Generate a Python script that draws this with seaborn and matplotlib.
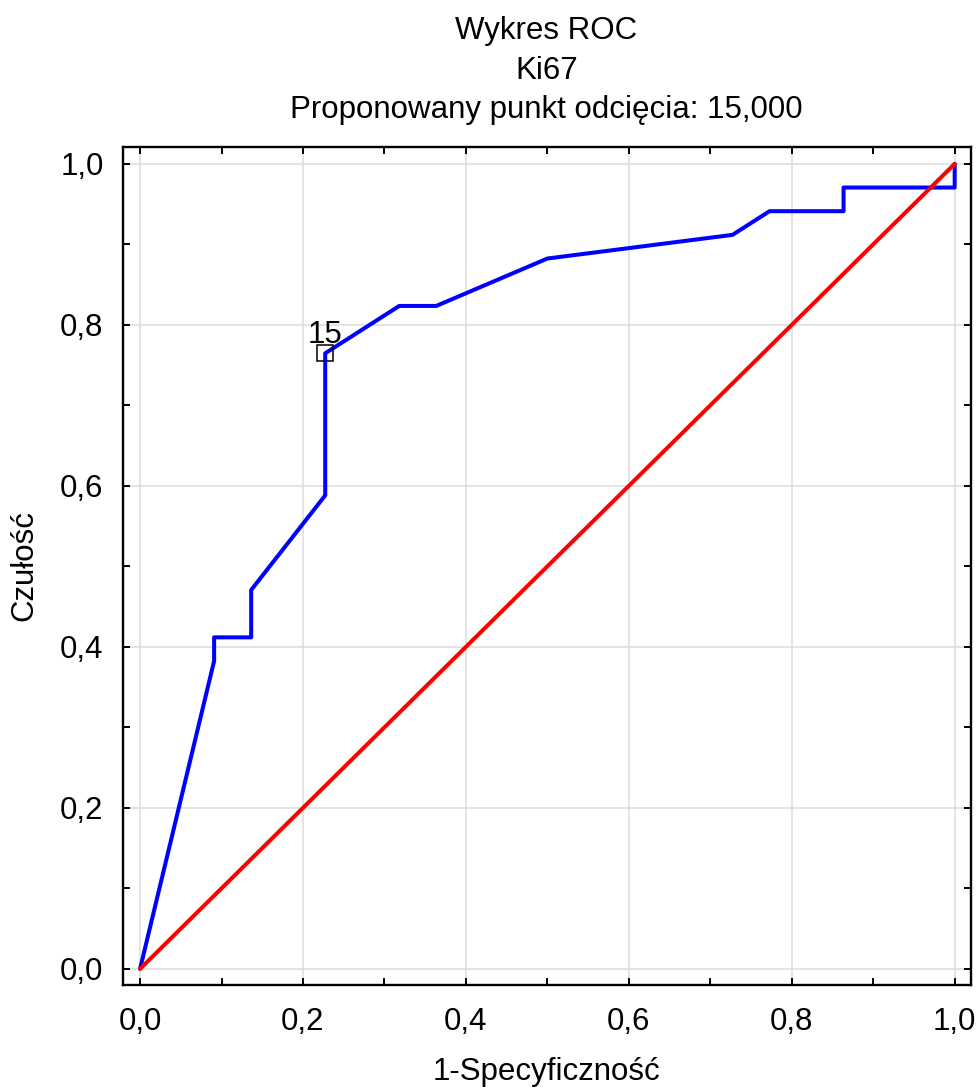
import seaborn as sns
import pandas as pd
import matplotlib.pyplot as plt
from matplotlib.ticker import MultipleLocator, FuncFormatter

# ROC points (1-specificity, sensitivity)
fpr = [0.0, 0.0909, 0.0909, 0.1364, 0.1364, 0.2273, 0.2273, 0.3182, 0.3636,
       0.5, 0.7273, 0.7727, 0.8636, 0.8636, 1.0, 1.0]
tpr = [0.0, 0.3824, 0.4118, 0.4118, 0.4706, 0.5882, 0.7647, 0.8235, 0.8235,
       0.8824, 0.9118, 0.9412, 0.9412, 0.9706, 0.9706, 1.0]
diag = [0.0, 1.0]
cut_x = [0.2273]
cut_y = [0.7647]
cut_label = '15'

df = pd.DataFrame({'fpr': fpr, 'tpr': tpr})
ref = pd.DataFrame({'x': diag, 'y': diag})

sns.set_style('white')
plt.rcParams['font.family'] = ['Liberation Sans', 'DejaVu Sans']
plt.rcParams['text.color'] = 'black'
plt.rcParams['axes.labelcolor'] = 'black'
plt.rcParams['xtick.color'] = 'black'
plt.rcParams['ytick.color'] = 'black'

fs = 22.5

fig = plt.figure(figsize=(9.79, 10.91), dpi=100)
ax = fig.add_axes([0.1256, 0.0972, 0.8662, 0.7681])

sns.lineplot(data=df, x='fpr', y='tpr', sort=False, estimator=None,
             color='#0000ff', linewidth=2.9, ax=ax, zorder=3)
sns.lineplot(data=ref, x='x', y='y', sort=False, estimator=None,
             color='#ff0000', linewidth=2.9, ax=ax, zorder=4)
ax.plot(cut_x, cut_y, marker='s', markersize=11, markerfacecolor='none',
        markeredgecolor='black', markeredgewidth=1.1, linestyle='none', zorder=5)
ax.text(cut_x[0], cut_y[0] + 0.004, cut_label, fontsize=fs, ha='center',
        va='bottom', color='black', zorder=6)

ax.set_xlim(-0.021, 1.02)
ax.set_ylim(-0.02, 1.021)
ax.xaxis.set_major_locator(MultipleLocator(0.2))
ax.xaxis.set_minor_locator(MultipleLocator(0.1))
ax.yaxis.set_major_locator(MultipleLocator(0.2))
ax.yaxis.set_minor_locator(MultipleLocator(0.1))
fmt = FuncFormatter(lambda v, _: '{:.1f}'.format(v).replace('.', ','))
ax.xaxis.set_major_formatter(fmt)
ax.yaxis.set_major_formatter(fmt)

ax.grid(True, which='major', color='#dcdcdc', linewidth=1.1)
ax.tick_params(which='both', direction='in', top=True, right=True,
               bottom=True, left=True, width=1.4, color='black')
ax.tick_params(which='major', length=5, labelsize=fs)
ax.tick_params(which='minor', length=5)
ax.tick_params(axis='x', which='major', pad=16)
ax.tick_params(axis='y', which='major', pad=14)
for s in ax.spines.values():
    s.set_color('black')
    s.set_linewidth(1.7)

ax.set_xlabel('1-Specyficzność', fontsize=fs, va='center')
ax.set_ylabel('Czułość', fontsize=fs, va='center')
ax.xaxis.set_label_coords(0.5, -0.104)
ax.yaxis.set_label_coords(-0.116, 0.5)

fig.text(0.558, 0.972, 'Wykres ROC', fontsize=fs, ha='center', va='center')
fig.text(0.558, 0.935, 'Ki67', fontsize=fs, ha='center', va='center')
fig.text(0.558, 0.899, 'Proponowany punkt odcięcia: 15,000', fontsize=fs,
         ha='center', va='center')

plt.savefig('out.png', dpi=100)
